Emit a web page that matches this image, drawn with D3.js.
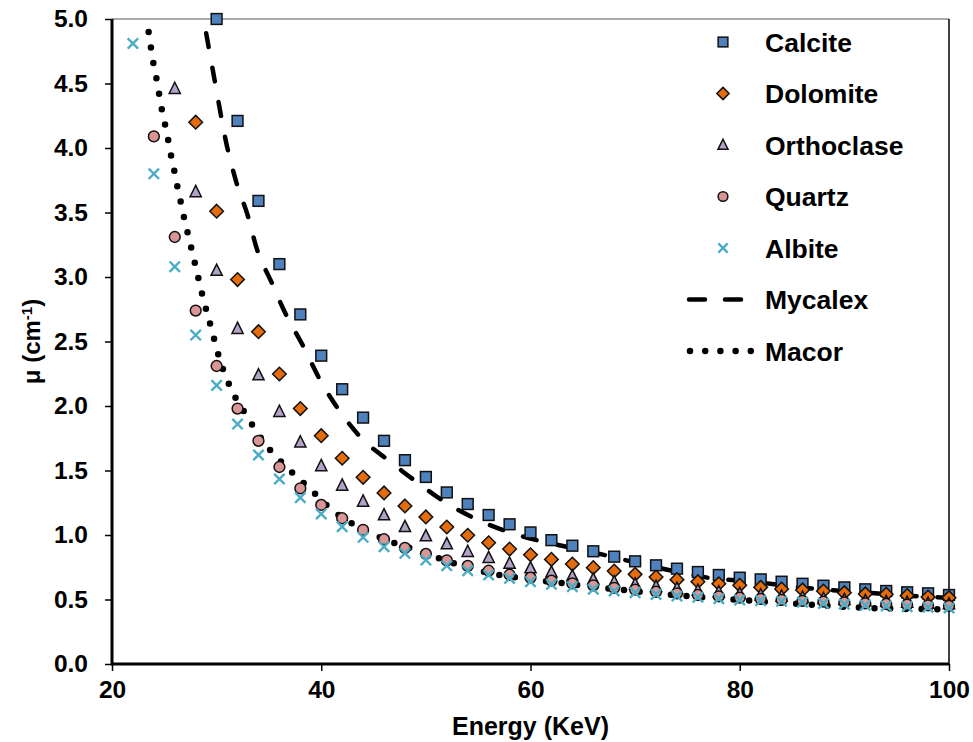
<!DOCTYPE html>
<html>
<head>
<meta charset="utf-8">
<script src="https://cdn.jsdelivr.net/npm/d3@7"></script>
<style>
  html, body { margin: 0; padding: 0; background: #fff; }
  svg { display: block; }
  text { font-family: "Liberation Sans", Arial, sans-serif; font-weight: bold; fill: #000; }
</style>
</head>
<body>
<svg id="chart" width="973" height="742"></svg>
<script>
// Photon energy grid for the measured minerals (KeV)
const energyKeV = [22, 24, 26, 28, 30, 32, 34, 36, 38, 40, 42, 44, 46, 48, 50, 52, 54, 56, 58, 60,
                   62, 64, 66, 68, 70, 72, 74, 76, 78, 80, 82, 84, 86, 88, 90, 92, 94, 96, 98, 100];

// Linear attenuation coefficient μ (cm^-1); null where the value is off the scale
const calcite = [null, null, null, null, 5.00, 4.21, 3.59, 3.10, 2.71, 2.39, 2.13, 1.91, 1.73, 1.58, 1.45, 1.33,
                 1.24, 1.155, 1.083, 1.02, 0.96, 0.917, 0.874, 0.832, 0.796, 0.765, 0.739, 0.713, 0.69, 0.669,
                 0.656, 0.638, 0.622, 0.607, 0.594, 0.579, 0.566, 0.556, 0.548, 0.535];
const dolomite = [null, null, null, 4.20, 3.51, 2.98, 2.576, 2.248, 1.98, 1.77, 1.595, 1.447, 1.326, 1.225, 1.14,
                  1.062, 0.998, 0.94, 0.891, 0.847, 0.811, 0.775, 0.747, 0.721, 0.695, 0.674, 0.654, 0.638, 0.622,
                  0.61, 0.594, 0.581, 0.574, 0.566, 0.553, 0.543, 0.54, 0.53, 0.519, 0.514];
const orthoclase = [null, null, 4.46, 3.66, 3.05, 2.60, 2.24, 1.956, 1.72, 1.536, 1.385, 1.261, 1.155, 1.064, 0.992,
                    0.93, 0.871, 0.824, 0.78, 0.744, 0.711, 0.682, 0.657, 0.636, 0.618, 0.60, 0.585, 0.57, 0.557,
                    0.545, 0.534, 0.524, 0.515, 0.506, 0.498, 0.49, 0.483, 0.477, 0.47, 0.465];
const quartz = [null, 4.09, 3.31, 2.74, 2.31, 1.98, 1.73, 1.527, 1.362, 1.233, 1.13, 1.04, 0.967, 0.90, 0.853, 0.804,
                0.76, 0.723, 0.692, 0.669, 0.646, 0.625, 0.61, 0.59, 0.576, 0.56, 0.548, 0.535, 0.525, 0.514,
                0.505, 0.497, 0.49, 0.483, 0.477, 0.47, 0.465, 0.46, 0.455, 0.45];
const albite = [4.81, 3.80, 3.08, 2.55, 2.16, 1.86, 1.62, 1.434, 1.29, 1.163, 1.064, 0.982, 0.909, 0.858, 0.806, 0.762,
                0.723, 0.69, 0.664, 0.638, 0.618, 0.60, 0.58, 0.566, 0.553, 0.54, 0.527, 0.517, 0.506, 0.496,
                0.491, 0.486, 0.48, 0.47, 0.463, 0.455, 0.45, 0.444, 0.44, 0.434];

// Reference glass-ceramics, drawn as continuous curves
const mycalexEnergy = [29.0, 29.8, 31.0, 31.9, 33.0, 33.8, 35.3, 36.5, 38.3, 39.9, 41.8, 43.85, 46.6, 49.3, 52.0,
                       55.0, 58.3, 61.2, 65.0, 71.1, 77.4, 81.25, 85.1, 92.1, 98.8, 100];
const mycalexMu = [4.89, 4.53, 4.01, 3.73, 3.47, 3.23, 2.95, 2.73, 2.46, 2.20, 1.956, 1.75, 1.568, 1.40, 1.246,
                   1.116, 1.013, 0.948, 0.884, 0.767, 0.664, 0.638, 0.60, 0.553, 0.517, 0.512];
const macorEnergy = [23.5, 23.72, 23.95, 24.27, 24.52, 24.78, 25.1, 25.4, 25.67, 25.99, 26.3, 26.6, 26.94, 27.3,
                     28.0, 28.7, 29.5, 30.3, 31.4, 32.9, 34.6, 36.7, 38.9, 41.1, 45.1, 49.3, 55.1, 62.7, 68.8,
                     74.9, 80.1, 87.3, 93.2, 100];
const macorMu = [4.90, 4.78, 4.66, 4.53, 4.41, 4.29, 4.17, 4.05, 3.93, 3.81, 3.68, 3.57, 3.44, 3.32,
                 3.08, 2.84, 2.60, 2.36, 2.13, 1.92, 1.71, 1.525, 1.36, 1.19, 1.0, 0.876, 0.723, 0.63, 0.574,
                 0.527, 0.496, 0.457, 0.432, 0.424];

const xTicks = [20, 40, 60, 80, 100];
const yTicks = [0, 0.5, 1, 1.5, 2, 2.5, 3, 3.5, 4, 4.5, 5];

const svg = d3.select("#chart");
const plot = { left: 112, right: 949, top: 19, bottom: 664 };

const x = d3.scaleLinear().domain([20, 100]).range([plot.left, plot.right]);
const y = d3.scaleLinear().domain([0, 5]).range([plot.bottom, plot.top]);

// Frame: light top edge, dark right edge
svg.append("line").attr("x1", plot.left).attr("x2", plot.right).attr("y1", plot.top).attr("y2", plot.top)
  .attr("stroke", "#8c8c8c").attr("stroke-width", 1.5);
svg.append("line").attr("x1", plot.right).attr("x2", plot.right).attr("y1", plot.top).attr("y2", plot.bottom)
  .attr("stroke", "#000").attr("stroke-width", 1.5);

// Axes
const xAxis = svg.append("g").attr("transform", `translate(0,${plot.bottom})`)
  .call(d3.axisBottom(x).tickValues(xTicks).tickSize(7).tickPadding(10).tickFormat(d3.format("d")));
const yAxis = svg.append("g").attr("transform", `translate(${plot.left},0)`)
  .call(d3.axisLeft(y).tickValues(yTicks).tickSize(7).tickPadding(17).tickFormat(d3.format(".1f")));
[xAxis, yAxis].forEach(g => {
  g.select(".domain").attr("stroke", "#000").attr("stroke-width", 3);
  g.selectAll(".tick line").attr("stroke", "#000").attr("stroke-width", 1.5);
  g.selectAll(".tick text").style("font-size", "24.5px").style("font-family", "'Liberation Sans', Arial, sans-serif")
    .style("font-weight", "bold").attr("fill", "#000");
});
xAxis.select(".domain").attr("d", `M${plot.left},0H${plot.right}`);
yAxis.select(".domain").attr("d", `M0,${plot.bottom + 1.5}V${plot.top}`);

// Axis titles
svg.append("text").attr("x", (plot.left + plot.right) / 2).attr("y", 735)
  .attr("text-anchor", "middle").style("font-size", "25px").text("Energy (KeV)");
const yTitle = svg.append("text")
  .attr("transform", `translate(40,${(plot.top + plot.bottom) / 2}) rotate(-90)`)
  .attr("text-anchor", "middle").style("font-size", "24px");
yTitle.append("tspan").text("μ (cm");
yTitle.append("tspan").attr("dy", -8).style("font-size", "15px").text("-1");
yTitle.append("tspan").attr("dy", 8).text(")");

// Curves (behind the markers)
const curve = d3.line().x(d => x(d[0])).y(d => y(d[1])).curve(d3.curveMonotoneX);
const mycalexPts = mycalexEnergy.map((e, i) => [e, mycalexMu[i]]);
const macorPts = macorEnergy.map((e, i) => [e, macorMu[i]]);

const styles = {
  mycalex: { stroke: "#000", width: 4.5, dash: "14,21", cap: "round" },
  macor: { stroke: "#000", width: 6.5, dash: "0,15.7", cap: "round" }
};
svg.append("path").attr("d", curve(mycalexPts)).attr("fill", "none")
  .attr("stroke", styles.mycalex.stroke).attr("stroke-width", styles.mycalex.width)
  .attr("stroke-dasharray", styles.mycalex.dash).attr("stroke-linecap", styles.mycalex.cap);
svg.append("path").attr("d", curve(macorPts)).attr("fill", "none")
  .attr("stroke", styles.macor.stroke).attr("stroke-width", styles.macor.width)
  .attr("stroke-dasharray", styles.macor.dash).attr("stroke-linecap", styles.macor.cap);

// Marker shapes
function drawMarker(g, kind, cx, cy, s) {
  const k = s || 1;
  if (kind === "square") {
    const h = 5.4 * k;
    g.append("rect").attr("x", cx - h).attr("y", cy - h).attr("width", 2 * h).attr("height", 2 * h)
      .attr("fill", "#4f81bd").attr("stroke", "#111").attr("stroke-width", 1.5);
  } else if (kind === "diamond") {
    const h = 6.8 * k;
    g.append("path").attr("d", `M${cx},${cy - h}L${cx + h},${cy}L${cx},${cy + h}L${cx - h},${cy}Z`)
      .attr("fill", "#e46c0a").attr("stroke", "#111").attr("stroke-width", 1.5);
  } else if (kind === "triangle") {
    const w = 5.6 * k, t = 6.4 * k, b = 4.8 * k;
    g.append("path").attr("d", `M${cx},${cy - t}L${cx + w},${cy + b}L${cx - w},${cy + b}Z`)
      .attr("fill", "#b3a2c7").attr("stroke", "#111").attr("stroke-width", 1.5);
  } else if (kind === "circle") {
    g.append("circle").attr("cx", cx).attr("cy", cy).attr("r", 5.4 * k)
      .attr("fill", "#d99694").attr("stroke", "#111").attr("stroke-width", 1.5);
  } else if (kind === "cross") {
    const h = 5.2 * k;
    g.append("path").attr("d", `M${cx - h},${cy - h}L${cx + h},${cy + h}M${cx - h},${cy + h}L${cx + h},${cy - h}`)
      .attr("stroke", "#4bacc6").attr("stroke-width", 2.4).attr("fill", "none");
  }
}

const series = [
  { name: "Calcite", values: calcite, kind: "square" },
  { name: "Dolomite", values: dolomite, kind: "diamond" },
  { name: "Orthoclase", values: orthoclase, kind: "triangle" },
  { name: "Quartz", values: quartz, kind: "circle" },
  { name: "Albite", values: albite, kind: "cross" }
];

series.forEach(s => {
  const g = svg.append("g").attr("class", "series-" + s.name);
  s.values.forEach((v, i) => {
    if (v === null) return;
    drawMarker(g, s.kind, x(energyKeV[i]), y(v));
  });
});

// Legend
const legend = svg.append("g");
const legendRows = [
  { label: "Calcite", kind: "square" },
  { label: "Dolomite", kind: "diamond" },
  { label: "Orthoclase", kind: "triangle" },
  { label: "Quartz", kind: "circle" },
  { label: "Albite", kind: "cross" },
  { label: "Mycalex", kind: "mycalex" },
  { label: "Macor", kind: "macor" }
];
legendRows.forEach((r, i) => {
  const cy = 42 + i * 51.5;
  if (r.kind === "mycalex" || r.kind === "macor") {
    const st = styles[r.kind];
    const x1 = r.kind === "mycalex" ? 689 : 690;
    const x2 = r.kind === "mycalex" ? 741 : 755;
    legend.append("line").attr("x1", x1).attr("x2", x2).attr("y1", cy).attr("y2", cy)
      .attr("stroke", st.stroke).attr("stroke-width", st.width)
      .attr("stroke-dasharray", r.kind === "mycalex" ? "16,20" : "0,15.2").attr("stroke-linecap", st.cap);
  } else {
    drawMarker(legend, r.kind, 723, cy, 0.9);
  }
  legend.append("text").attr("x", 765).attr("y", cy).attr("dy", "0.36em")
    .style("font-size", "26.5px").text(r.label);
});
</script>
</body>
</html>
